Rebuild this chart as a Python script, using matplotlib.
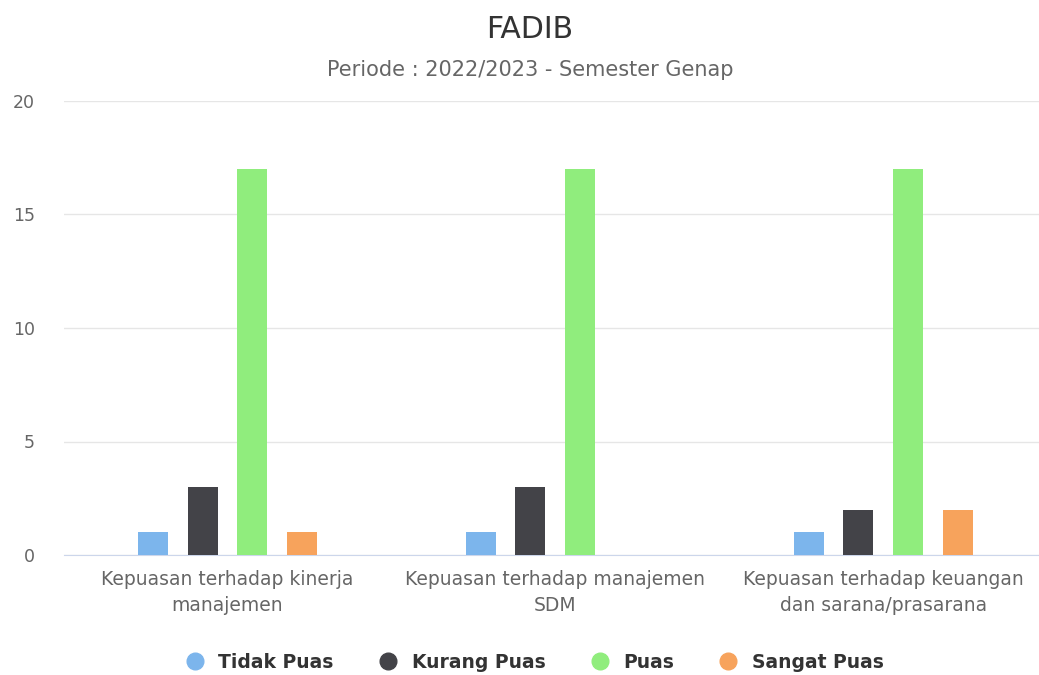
import matplotlib.pyplot as plt
import numpy as np
from matplotlib.lines import Line2D

plt.rcParams['font.family'] = ['DejaVu Sans']

# data
categories = ["Kepuasan terhadap kinerja\nmanajemen",
              "Kepuasan terhadap manajemen\nSDM",
              "Kepuasan terhadap keuangan\ndan sarana/prasarana"]
series_names = ["Tidak Puas", "Kurang Puas", "Puas", "Sangat Puas"]
tidak_puas = [1, 1, 1]
kurang_puas = [3, 3, 2]
puas = [17, 17, 17]
sangat_puas = [1, 0, 2]
colors = ["#7cb5ec", "#434348", "#90ed7d", "#f7a35c"]

values = [tidak_puas, kurang_puas, puas, sangat_puas]

fig = plt.figure(figsize=(10.39, 6.75), dpi=100)
# plot area runs a bit past the right edge of the picture (cropped screenshot)
ax = fig.add_axes([63.5 / 1039, 120 / 675, 983.5 / 1039, 454 / 675])

x = np.arange(len(categories))
bw = 0.0915
step = 0.1515
for i, (vals, c) in enumerate(zip(values, colors)):
    ax.bar(x + (i - 1.5) * step, vals, width=bw, color=c, zorder=3)

ax.set_xlim(-0.5, len(categories) - 0.5)
ax.set_ylim(0, 20)
ax.set_yticks([0, 5, 10, 15, 20])
ax.grid(axis="y", color="#e6e6e6", linewidth=1, zorder=0)
for s in ["top", "right", "left"]:
    ax.spines[s].set_visible(False)
ax.spines["bottom"].set_color("#ccd6eb")
ax.tick_params(axis="y", length=0, labelsize=12.5, labelcolor="#666666", pad=20.5)
ax.tick_params(axis="x", length=0, labelsize=13.5, labelcolor="#666666", pad=11)
ax.set_xticks(x)
ax.set_xticklabels(categories, linespacing=1.45)

# the original page is a bit wider than the crop, so centre sits at ~530px
cx = 530 / 1039
fig.text(cx, 1 - 29 / 675, "FADIB", ha="center", va="center", fontsize=21.5, color="#333333")
fig.text(cx, 1 - 70 / 675, "Periode : 2022/2023 - Semester Genap", ha="center", va="center",
         fontsize=15, color="#666666")

handles = [Line2D([0], [0], marker="o", linestyle="", markersize=12, color=c) for c in colors]
leg = fig.legend(handles, series_names, loc="center", bbox_to_anchor=(cx, 1 - 662 / 675),
                 ncol=4, frameon=False, handletextpad=0.25, columnspacing=1.9,
                 prop={"weight": "bold", "size": 13.5})
for t in leg.get_texts():
    t.set_color("#333333")

fig.savefig("out.png", dpi=100)
